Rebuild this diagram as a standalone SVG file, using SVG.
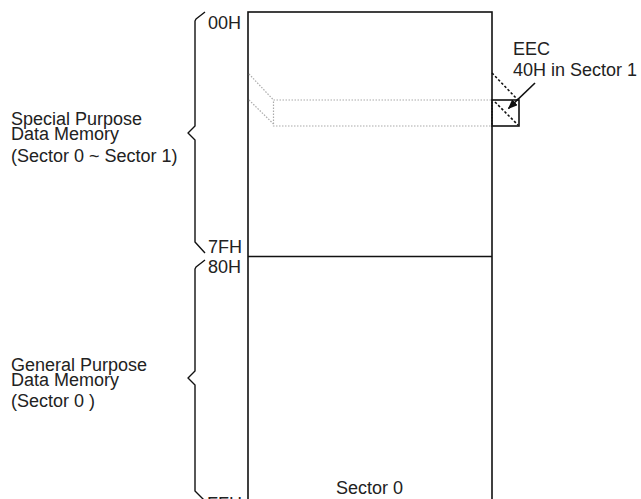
<svg xmlns="http://www.w3.org/2000/svg" width="641" height="499" viewBox="0 0 641 499">
<style>
text{font-family:"Liberation Sans",Arial,sans-serif;font-size:18px;fill:#222}
.b{fill:none;stroke:#111;stroke-width:1.6}
.br{fill:none;stroke:#111;stroke-width:1.4;stroke-linejoin:round}
.g{fill:none;stroke:#aaa;stroke-width:1.2;stroke-dasharray:1.5 1.5}
.k{fill:none;stroke:#111;stroke-width:1.6;stroke-dasharray:2.5 2}
</style>
<defs>
<marker id="ah" markerWidth="10" markerHeight="8" refX="9" refY="4" orient="auto" markerUnits="userSpaceOnUse">
<path d="M0,0 L10,4 L0,8 Z" fill="#111"/>
</marker>
</defs>
<rect width="641" height="499" fill="#fff"/>
<g id="memory">
<rect class="b" x="248" y="12" width="244" height="500"/>
<line class="b" x1="248" y1="256.5" x2="492" y2="256.5"/>
<text x="336" y="494">Sector 0</text>
</g>
<g id="brace-special">
<path class="br" d="M205,12 L196,19 L195,21 L195,126 L188,133 L195,140 L195,242 L205,253"/>
<text x="11" y="125">Special Purpose</text>
<text x="11" y="139.5">Data Memory</text>
<text x="11" y="161.5">(Sector 0 ~ Sector 1)</text>
</g>
<g id="brace-general">
<path class="br" d="M205,260 L196,267 L195,269 L195,371 L188,378 L195,385 L195,491 L205,501"/>
<text x="11" y="371">General Purpose</text>
<text x="11" y="385.5">Data Memory</text>
<text x="11" y="407">(Sector 0 )</text>
</g>
<g id="addresses">
<text x="208" y="29">00H</text>
<text x="208" y="253">7FH</text>
<text x="208" y="273">80H</text>
<text x="207" y="510">FFH</text>
</g>
<g id="highlight">
<rect class="g" x="273.5" y="100" width="218.5" height="26"/>
<line class="g" x1="249" y1="74" x2="273.5" y2="100"/>
<line class="g" x1="249" y1="100" x2="273.5" y2="124"/>
</g>
<g id="eec">
<rect class="b" x="492" y="100" width="27" height="26"/>
<line class="k" x1="492" y1="73" x2="518" y2="100"/>
<line class="k" x1="495" y1="102" x2="518" y2="125"/>
<text x="513" y="55">EEC</text>
<text x="513" y="76">40H in Sector 1</text>
</g>
<g id="connectors">
<line x1="535" y1="83" x2="508.5" y2="108.5" stroke="#111" stroke-width="1.6" marker-end="url(#ah)"/>
</g>
</svg>
